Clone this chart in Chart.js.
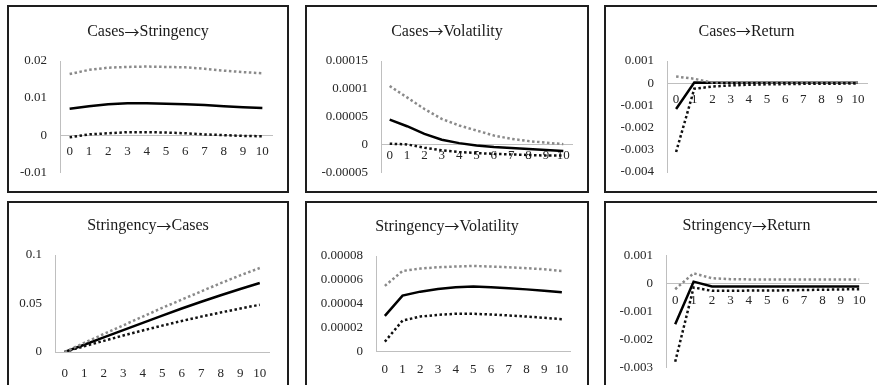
<!DOCTYPE html>
<html>
<head>
<meta charset="utf-8">
<script src="https://cdn.jsdelivr.net/npm/chart.js@4/dist/chart.umd.min.js"></script>
<style>
  html, body { margin: 0; padding: 0; background: #fff; }
  body { width: 877px; height: 385px; position: relative; overflow: hidden; }
  .panel { position: absolute; }
  .panel canvas { position: absolute; left: 0; top: 0; }
  .frame { position: absolute; left: 0; top: 0; right: 0; bottom: 0;
           border: 2px solid #1e1e1e; box-sizing: border-box; pointer-events: none; }
</style>
</head>
<body>
<script>
// Impulse-response horizons
const periods = ['0', '1', '2', '3', '4', '5', '6', '7', '8', '9', '10'];

// Cases -> Stringency
const csResp  = [0.0071, 0.0078, 0.0083, 0.0086, 0.0086, 0.0085, 0.0083, 0.0081, 0.0078, 0.0075, 0.0073];
const csUpper = [0.0165, 0.0176, 0.0182, 0.0184, 0.0185, 0.0184, 0.0183, 0.0179, 0.0174, 0.0170, 0.0167];
const csLower = [-0.0006, 0.0002, 0.0005, 0.0008, 0.0008, 0.0007, 0.0005, 0.0002, 0.0000, -0.0002, -0.0003];
const csTicks = ['-0.01', '0', '0.01', '0.02'];

// Cases -> Volatility
const cvResp  = [0.0000446, 0.0000327, 0.000019, 0.0000084, 0.0000023, -0.0000018, -0.0000048, -0.0000066, -0.0000084, -0.000010, -0.000012];
const cvUpper = [0.000105, 0.0000845, 0.0000637, 0.0000458, 0.000034, 0.000025, 0.000016, 0.000010, 0.000006, 0.000003, 0.0000005];
const cvLower = [0.0000012, 0.0000000, -0.000006, -0.0000107, -0.0000137, -0.0000155, -0.000017, -0.000018, -0.000019, -0.000020, -0.000020];
const cvTicks = ['-0.00005', '0', '0.00005', '0.0001', '0.00015'];

// Cases -> Return
const crResp  = [-0.00116, 0.00003, 0.00002, 0.00002, 0.00002, 0.00002, 0.00002, 0.00002, 0.00002, 0.00002, 0.00002];
const crUpper = [0.0003, 0.0002, 0.00003, 0.00003, 0.00003, 0.00003, 0.00003, 0.00003, 0.00003, 0.00003, 0.00003];
const crLower = [-0.0031, -0.00025, -0.00015, -0.0001, -0.00007, -0.00005, -0.00004, -0.00003, -0.00002, -0.00002, -0.00001];
const crTicks = ['-0.004', '-0.003', '-0.002', '-0.001', '0', '0.001'];

// Stringency -> Cases
const scResp  = [0, 0.0075, 0.0150, 0.0225, 0.0300, 0.0375, 0.0448, 0.0518, 0.0585, 0.0650, 0.0711];
const scUpper = [0, 0.0095, 0.0185, 0.0275, 0.0365, 0.0455, 0.0540, 0.0625, 0.0710, 0.0790, 0.0866];
const scLower = [0, 0.0060, 0.0115, 0.0170, 0.0222, 0.0272, 0.0320, 0.0365, 0.0408, 0.0448, 0.0487];
const scTicks = ['0', '0.05', '0.1'];

// Stringency -> Volatility
const svResp  = [0.0000299, 0.0000469, 0.0000502, 0.0000524, 0.0000538, 0.0000544, 0.0000538, 0.0000530, 0.0000521, 0.0000510, 0.0000496];
const svUpper = [0.000055, 0.0000675, 0.0000695, 0.0000706, 0.0000712, 0.0000717, 0.0000712, 0.0000706, 0.0000698, 0.0000689, 0.0000675];
const svLower = [0.0000084, 0.000026, 0.0000294, 0.0000308, 0.0000317, 0.0000317, 0.0000311, 0.0000303, 0.0000294, 0.0000283, 0.0000272];
const svTicks = ['0', '0.00002', '0.00004', '0.00006', '0.00008'];

// Stringency -> Return
const srResp  = [-0.00146, 0.00007, -0.0001, -0.0001, -0.0001, -0.0001, -0.0001, -0.0001, -0.0001, -0.0001, -0.0001];
const srUpper = [-0.0002, 0.00037, 0.00019, 0.00016, 0.00015, 0.00015, 0.00015, 0.00015, 0.00015, 0.00015, 0.00015];
const srLower = [-0.0028, -0.00014, -0.00026, -0.00026, -0.00025, -0.00025, -0.00024, -0.00023, -0.00022, -0.00021, -0.0002];
const srTicks = ['-0.003', '-0.002', '-0.001', '0', '0.001'];

const FONT = "'Liberation Serif', 'Times New Roman', serif";
const ARROW_FONT = "'Noto Sans CJK SC', 'DejaVu Sans', sans-serif";
const TEXT = '#262626';
const AXIS = '#bfbfbf';

const panels = [
  { from: 'Cases', to: 'Stringency', resp: csResp, upper: csUpper, lower: csLower, ticks: csTicks,
    min: -0.01, max: 0.02, step: 0.01,
    box: { left: 7, top: 5, w: 282, h: 188 }, plotLeft: 53, right: 17, top: 56, bot: 20, titleY: 27, xPad: 9 },
  { from: 'Cases', to: 'Volatility', resp: cvResp, upper: cvUpper, lower: cvLower, ticks: cvTicks,
    min: -0.00005, max: 0.00015, step: 0.00005,
    box: { left: 305, top: 5, w: 284, h: 188 }, plotLeft: 76, right: 17, top: 56, bot: 20, titleY: 26.7, xPad: 3 },
  { from: 'Cases', to: 'Return', resp: crResp, upper: crUpper, lower: crLower, ticks: crTicks,
    min: -0.004, max: 0.001, step: 0.001,
    box: { left: 604, top: 5, w: 285, h: 188 }, plotLeft: 63, right: 22, top: 56, bot: 21, titleY: 26.7, xPad: 9 },
  { from: 'Stringency', to: 'Cases', resp: scResp, upper: scUpper, lower: scLower, ticks: scTicks,
    min: 0, max: 0.1, step: 0.05,
    box: { left: 7, top: 201, w: 282, h: 188 }, plotLeft: 48, right: 19.5, top: 54, bot: 37, titleY: 25, xPad: 14 },
  { from: 'Stringency', to: 'Volatility', resp: svResp, upper: svUpper, lower: svLower, ticks: svTicks,
    min: 0, max: 0.00008, step: 0.00002,
    box: { left: 305, top: 201, w: 284, h: 188 }, plotLeft: 71, right: 18.3, top: 55, bot: 37.3, titleY: 25.7, xPad: 10 },
  { from: 'Stringency', to: 'Return', resp: srResp, upper: srUpper, lower: srLower, ticks: srTicks,
    min: -0.003, max: 0.001, step: 0.001,
    box: { left: 604, top: 201, w: 285, h: 188 }, plotLeft: 62, right: 20.6, top: 54.7, bot: 21.7, titleY: 25, xPad: 9 }
];

// Panel heading "A→B", centred over the whole panel, with a wide arrow glyph
const panelTitle = {
  id: 'panelTitle',
  afterDraw(chart, args, opts) {
    const ctx = chart.ctx;
    ctx.save();
    ctx.fillStyle = '#1a1a1a';
    ctx.textBaseline = 'middle';
    ctx.textAlign = 'left';
    const textFont = '16px ' + FONT;
    const arrowFont = '15px ' + ARROW_FONT;
    ctx.font = textFont;
    const wA = ctx.measureText(opts.from).width;
    const wB = ctx.measureText(opts.to).width;
    ctx.font = arrowFont;
    const wArr = ctx.measureText('\u2192').width;
    let x = chart.width / 2 - (wA + wArr + wB) / 2;
    const y = opts.y;
    ctx.font = textFont;
    ctx.fillText(opts.from, x, y);
    x += wA;
    ctx.font = arrowFont;
    ctx.fillText('\u2192', x, y);
    x += wArr;
    ctx.font = textFont;
    ctx.fillText(opts.to, x, y);
    ctx.restore();
  }
};

function buildPanel(p) {
  const wrap = document.createElement('div');
  wrap.className = 'panel';
  Object.assign(wrap.style, {
    left: p.box.left + 'px', top: p.box.top + 'px',
    width: p.box.w + 'px', height: p.box.h + 'px'
  });
  const canvas = document.createElement('canvas');
  canvas.width = p.box.w;
  canvas.height = p.box.h;
  wrap.appendChild(canvas);
  const frame = document.createElement('div');
  frame.className = 'frame';
  wrap.appendChild(frame);
  document.body.appendChild(wrap);

  new Chart(canvas, {
    type: 'line',
    plugins: [panelTitle],
    data: {
      labels: periods,
      datasets: [
        { data: p.upper, borderColor: '#8a8a8a', borderWidth: 2.5, borderDash: [2.5, 2.5],
          pointRadius: 0, tension: 0, fill: false },
        { data: p.lower, borderColor: '#111111', borderWidth: 2.5, borderDash: [2.5, 2.5],
          pointRadius: 0, tension: 0, fill: false },
        { data: p.resp, borderColor: '#000000', borderWidth: 2.5,
          pointRadius: 0, tension: 0, fill: false }
      ]
    },
    options: {
      responsive: false,
      animation: false,
      devicePixelRatio: 1,
      layout: { padding: { left: 0, right: p.right, top: p.top, bottom: p.bot } },
      plugins: {
        legend: { display: false },
        tooltip: { enabled: false },
        title: { display: false },
        panelTitle: { from: p.from, to: p.to, y: p.titleY }
      },
      scales: {
        x: {
          type: 'category',
          position: { y: 0 },
          offset: true,
          grid: { display: false, drawTicks: false },
          border: { display: true, color: AXIS, width: 1 },
          ticks: { color: TEXT, font: { family: FONT, size: 13 }, padding: p.xPad,
                   maxRotation: 0, autoSkip: false }
        },
        y: {
          type: 'linear',
          min: p.min, max: p.max,
          grid: { display: false, drawTicks: false },
          border: { display: true, color: AXIS, width: 1 },
          afterFit: (s) => { s.width = p.plotLeft; },
          ticks: {
            stepSize: p.step, color: TEXT, padding: 13,
            font: { family: FONT, size: 13 },
            callback: (v, i) => p.ticks[i]
          }
        }
      }
    }
  });
}

panels.forEach(buildPanel);
</script>
</body>
</html>
